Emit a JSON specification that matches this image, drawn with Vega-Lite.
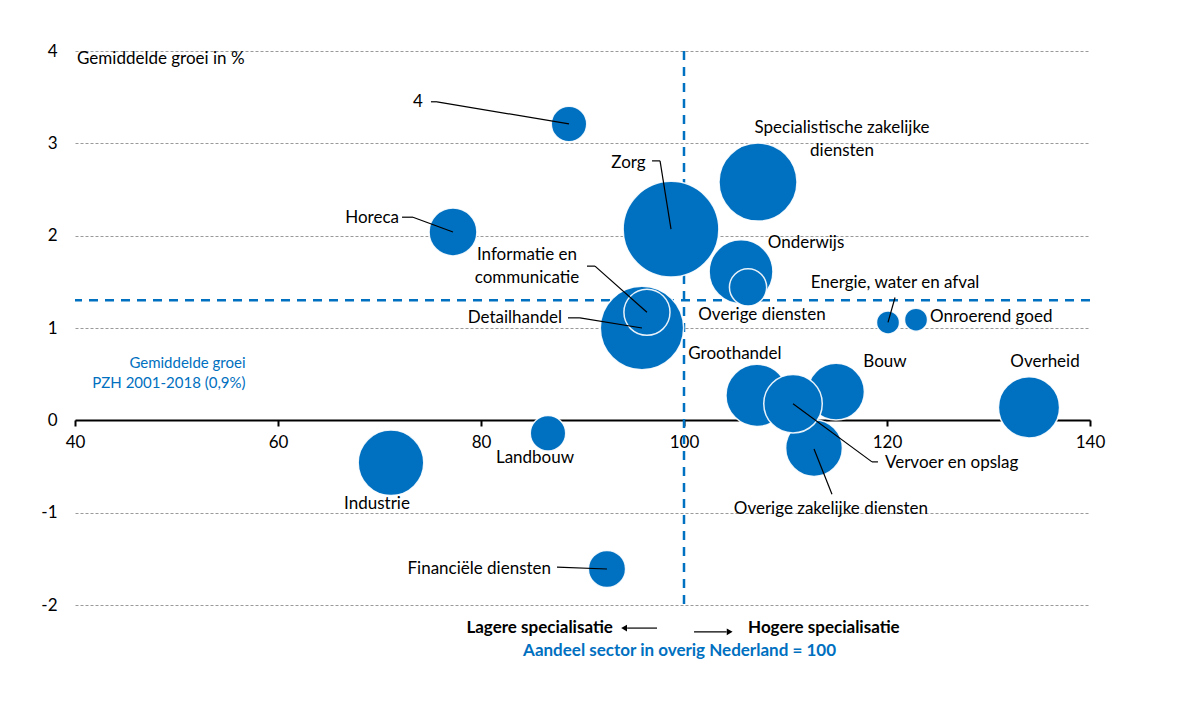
{
  "$schema": "https://vega.github.io/schema/vega-lite/v6.json",
  "width": 1015,
  "height": 554,
  "padding": {"left": 75, "top": 51, "right": 99, "bottom": 99},
  "autosize": {"type": "none"},
  "background": "white",
  "config": {
    "view": {"stroke": null},
    "font": "Lato",
    "text": {"font": "Lato", "fontSize": 17, "color": "#000000", "baseline": "middle", "lineBreak": "\n", "lineHeight": 23}
  },
  "datasets": {
    "bubbles": [
      {"sector": "Zorg", "x": 98.72, "y": 2.07, "omvang": 29.16},
      {"sector": "Specialistische zakelijke diensten", "x": 107.29, "y": 2.58, "omvang": 19.36},
      {"sector": "Onderwijs", "x": 105.62, "y": 1.61, "omvang": 12.96},
      {"sector": "Overige diensten", "x": 106.31, "y": 1.44, "omvang": 4.41},
      {"sector": "Detailhandel", "x": 95.86, "y": 1.0, "omvang": 22.09},
      {"sector": "Informatie en communicatie", "x": 96.35, "y": 1.17, "omvang": 6.76},
      {"sector": "4", "x": 88.67, "y": 3.21, "omvang": 4.0},
      {"sector": "Horeca", "x": 77.24, "y": 2.04, "omvang": 7.29},
      {"sector": "Energie, water en afval", "x": 120.1, "y": 1.06, "omvang": 1.69},
      {"sector": "Onroerend goed", "x": 122.86, "y": 1.09, "omvang": 1.69},
      {"sector": "Groothandel", "x": 107.19, "y": 0.27, "omvang": 12.25},
      {"sector": "Bouw", "x": 114.98, "y": 0.31, "omvang": 10.24},
      {"sector": "Overige zakelijke diensten", "x": 112.81, "y": -0.3, "omvang": 10.24},
      {"sector": "Vervoer en opslag", "x": 110.74, "y": 0.18, "omvang": 10.89},
      {"sector": "Overheid", "x": 133.99, "y": 0.14, "omvang": 11.9},
      {"sector": "Industrie", "x": 71.13, "y": -0.46, "omvang": 13.69},
      {"sector": "Landbouw", "x": 86.6, "y": -0.14, "omvang": 4.0},
      {"sector": "Financiële diensten", "x": 92.41, "y": -1.61, "omvang": 4.41}
    ],
    "labels": [
      {"label": "4", "x": 73.79, "y": 3.45, "anker": "center"},
      {"label": "Zorg", "x": 94.53, "y": 2.79, "anker": "center"},
      {"label": "Specialistische zakelijke\ndiensten", "x": 115.57, "y": 3.166, "anker": "center"},
      {"label": "Onderwijs", "x": 112.02, "y": 1.92, "anker": "center"},
      {"label": "Informatie en\ncommunicatie", "x": 84.53, "y": 1.79, "anker": "center"},
      {"label": "Overige diensten", "x": 107.68, "y": 1.14, "anker": "center"},
      {"label": "Energie, water en afval", "x": 120.79, "y": 1.49, "anker": "center"},
      {"label": "Groothandel", "x": 105.02, "y": 0.72, "anker": "center"},
      {"label": "Bouw", "x": 119.8, "y": 0.63, "anker": "center"},
      {"label": "Overheid", "x": 135.57, "y": 0.63, "anker": "center"},
      {"label": "Overige zakelijke diensten", "x": 114.48, "y": -0.96, "anker": "center"},
      {"label": "Industrie", "x": 69.75, "y": -0.91, "anker": "center"},
      {"label": "Landbouw", "x": 85.32, "y": -0.41, "anker": "center"},
      {"label": "Horeca", "x": 71.92, "y": 2.19, "anker": "right"},
      {"label": "Detailhandel", "x": 87.98, "y": 1.11, "anker": "right"},
      {"label": "Financiële diensten", "x": 86.9, "y": -1.61, "anker": "right"},
      {"label": "Onroerend goed", "x": 124.24, "y": 1.12, "anker": "left"},
      {"label": "Vervoer en opslag", "x": 119.8, "y": -0.46, "anker": "left"}
    ],
    "leaders": [
      {"x": 75.07, "y": 3.45, "x2": 75.67, "y2": 3.45},
      {"x": 75.67, "y": 3.45, "x2": 88.67, "y2": 3.21},
      {"x": 72.22, "y": 2.2, "x2": 73.3, "y2": 2.2},
      {"x": 73.3, "y": 2.2, "x2": 77.24, "y2": 2.04},
      {"x": 96.85, "y": 2.81, "x2": 97.64, "y2": 2.81},
      {"x": 97.64, "y": 2.81, "x2": 98.72, "y2": 2.07},
      {"x": 90.44, "y": 1.67, "x2": 91.23, "y2": 1.67},
      {"x": 91.23, "y": 1.67, "x2": 96.35, "y2": 1.17},
      {"x": 88.57, "y": 1.11, "x2": 89.75, "y2": 1.11},
      {"x": 89.75, "y": 1.11, "x2": 95.86, "y2": 1.0},
      {"x": 120.79, "y": 1.33, "x2": 120.1, "y2": 1.06},
      {"x": 110.74, "y": 0.18, "x2": 118.52, "y2": -0.45},
      {"x": 118.52, "y": -0.45, "x2": 119.11, "y2": -0.45},
      {"x": 112.81, "y": -0.31, "x2": 114.58, "y2": -0.8},
      {"x": 87.49, "y": -1.59, "x2": 92.41, "y2": -1.61}
    ]
  },
  "layer": [
    {
      "data": {"values": [{"y": 1.3}]},
      "mark": {"type": "rule", "color": "#0070C0", "strokeWidth": 2.5, "strokeDash": [9, 7]},
      "encoding": {
        "y": {"field": "y", "type": "quantitative", "scale": {"domain": [-2, 4], "nice": false, "zero": false},
          "axis": {"orient": "left", "title": null, "values": [-2, -1, 0, 1, 2, 3, 4], "domain": false, "ticks": false, "labelPadding": 18, "labelFont": "Lato", "labelFontSize": 17, "labelColor": "#000000", "grid": true, "gridDash": [3, 2], "gridColor": "#9a9a9a", "gridWidth": 1, "labelExpr": "datum.value < 0 ? '-' + toString(-datum.value) : toString(datum.value)"}}
      }
    },
    {
      "data": {"values": [{"x": 100}]},
      "mark": {"type": "rule", "color": "#0070C0", "strokeWidth": 2.5, "strokeDash": [9, 7]},
      "encoding": {
        "x": {"field": "x", "type": "quantitative", "scale": {"domain": [40, 140], "nice": false, "zero": false},
          "axis": {"orient": "bottom", "title": null, "offset": -185, "values": [40, 60, 80, 100, 120, 140], "grid": false, "domainColor": "#000000", "domainWidth": 2, "tickColor": "#000000", "tickWidth": 2, "tickSize": 6, "labelPadding": 8, "labelFont": "Lato", "labelFontSize": 17, "labelColor": "#000000", "labelFlush": false}}
      }
    },
    {
      "data": {"name": "bubbles"},
      "mark": {"type": "point", "shape": "circle", "filled": true, "color": "#0070C0", "opacity": 1, "stroke": "#ffffff", "strokeWidth": 1.5, "strokeOpacity": 0.9},
      "encoding": {
        "x": {"field": "x", "type": "quantitative", "title": null},
        "y": {"field": "y", "type": "quantitative", "title": null},
        "size": {"field": "omvang", "type": "quantitative", "scale": {"type": "linear", "domain": [0, 30], "range": [0, 9425], "zero": true}, "legend": null}
      }
    },
    {
      "data": {"name": "leaders"},
      "mark": {"type": "rule", "color": "#000000", "strokeWidth": 1.2},
      "encoding": {
        "x": {"field": "x", "type": "quantitative", "title": null},
        "y": {"field": "y", "type": "quantitative", "title": null},
        "x2": {"field": "x2"},
        "y2": {"field": "y2"}
      }
    },
    {
      "data": {"name": "labels"},
      "transform": [{"filter": "datum.anker === 'center'"}],
      "mark": {"type": "text", "align": "center"},
      "encoding": {
        "x": {"field": "x", "type": "quantitative", "title": null},
        "y": {"field": "y", "type": "quantitative", "title": null},
        "text": {"field": "label"}
      }
    },
    {
      "data": {"name": "labels"},
      "transform": [{"filter": "datum.anker === 'right'"}],
      "mark": {"type": "text", "align": "right"},
      "encoding": {
        "x": {"field": "x", "type": "quantitative", "title": null},
        "y": {"field": "y", "type": "quantitative", "title": null},
        "text": {"field": "label"}
      }
    },
    {
      "data": {"name": "labels"},
      "transform": [{"filter": "datum.anker === 'left'"}],
      "mark": {"type": "text", "align": "left"},
      "encoding": {
        "x": {"field": "x", "type": "quantitative", "title": null},
        "y": {"field": "y", "type": "quantitative", "title": null},
        "text": {"field": "label"}
      }
    },
    {
      "data": {"values": [{"label": "Gemiddelde groei in %", "x": 40.2, "y": 3.91}]},
      "mark": {"type": "text", "align": "left"},
      "encoding": {
        "x": {"field": "x", "type": "quantitative", "title": null},
        "y": {"field": "y", "type": "quantitative", "title": null},
        "text": {"field": "label"}
      }
    },
    {
      "data": {"values": [{"label": "Gemiddelde groei\nPZH 2001-2018 (0,9%)", "x": 56.8, "y": 0.62}]},
      "mark": {"type": "text", "align": "right", "color": "#0070C0", "fontSize": 15, "lineHeight": 20},
      "encoding": {
        "x": {"field": "x", "type": "quantitative", "title": null},
        "y": {"field": "y", "type": "quantitative", "title": null},
        "text": {"field": "label"}
      }
    },
    {
      "data": {"values": [{"label": "Lagere specialisatie", "x": 93.0, "y": -2.25}]},
      "mark": {"type": "text", "align": "right", "fontWeight": "bold"},
      "encoding": {
        "x": {"field": "x", "type": "quantitative", "title": null},
        "y": {"field": "y", "type": "quantitative", "title": null},
        "text": {"field": "label"}
      }
    },
    {
      "data": {"values": [{"label": "Hogere specialisatie", "x": 106.31, "y": -2.25}]},
      "mark": {"type": "text", "align": "left", "fontWeight": "bold"},
      "encoding": {
        "x": {"field": "x", "type": "quantitative", "title": null},
        "y": {"field": "y", "type": "quantitative", "title": null},
        "text": {"field": "label"}
      }
    },
    {
      "data": {"values": [{"label": "Aandeel sector in overig Nederland = 100", "x": 99.56, "y": -2.5}]},
      "mark": {"type": "text", "align": "center", "fontWeight": "bold", "color": "#0070C0"},
      "encoding": {
        "x": {"field": "x", "type": "quantitative", "title": null},
        "y": {"field": "y", "type": "quantitative", "title": null},
        "text": {"field": "label"}
      }
    },
    {
      "data": {"values": [{"x": 97.34, "y": -2.25, "x2": 94.4, "y2": -2.25}, {"x": 100.99, "y": -2.29, "x2": 104.2, "y2": -2.29}]},
      "mark": {"type": "rule", "color": "#000000", "strokeWidth": 1.2},
      "encoding": {
        "x": {"field": "x", "type": "quantitative", "title": null},
        "y": {"field": "y", "type": "quantitative", "title": null},
        "x2": {"field": "x2"},
        "y2": {"field": "y2"}
      }
    },
    {
      "data": {"values": [{"x": 94.1, "y": -2.25}]},
      "mark": {"type": "point", "shape": "triangle-left", "filled": true, "color": "#000000", "size": 45, "opacity": 1},
      "encoding": {
        "x": {"field": "x", "type": "quantitative", "title": null},
        "y": {"field": "y", "type": "quantitative", "title": null}
      }
    },
    {
      "data": {"values": [{"x": 104.5, "y": -2.29}]},
      "mark": {"type": "point", "shape": "triangle-right", "filled": true, "color": "#000000", "size": 45, "opacity": 1},
      "encoding": {
        "x": {"field": "x", "type": "quantitative", "title": null},
        "y": {"field": "y", "type": "quantitative", "title": null}
      }
    }
  ]
}
